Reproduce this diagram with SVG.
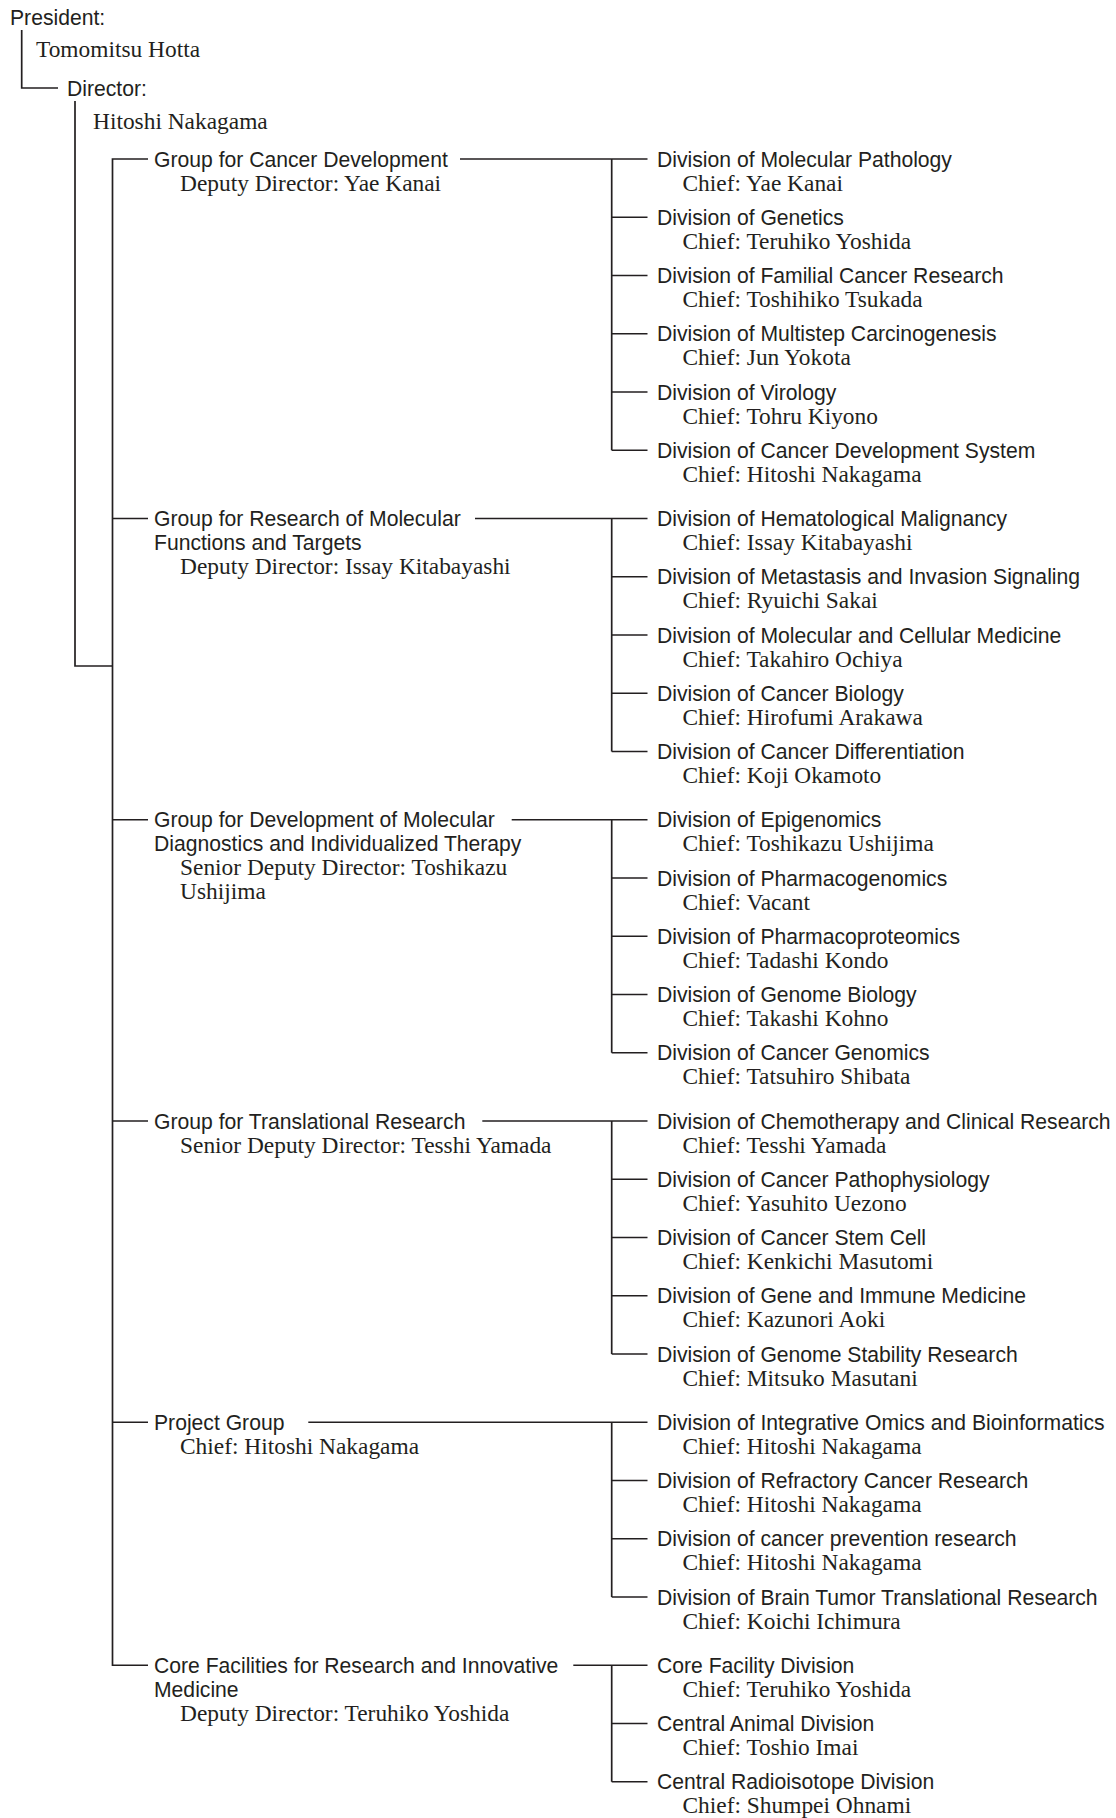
<svg xmlns="http://www.w3.org/2000/svg" width="1116" height="1818" viewBox="0 0 1116 1818">
<style>
.s{font-family:"Liberation Sans",Arial,Helvetica,sans-serif;font-size:21.15px;fill:#231f20}
.r{font-family:"Liberation Serif","Times New Roman",serif;font-size:23.4px;fill:#231f20}
.c{fill:none;stroke:#231f20;stroke-width:1.7}
</style>
<rect width="1116" height="1818" fill="#fff"/>
<g id="connectors" class="c">
<path d="M21.7,30 V88 H58"/>
<path d="M75,101 V666 H112.5"/>
<path d="M148,159 H112.5 V1665.25 H148"/>
<path d="M112.5,518.5 H148 M112.5,819.75 H148 M112.5,1121 H148 M112.5,1422.25 H148"/>
<path d="M460,159 H611.7 M611.7,159 V450.25 M611.7,159 H647.5 M611.7,217.25 H647.5 M611.7,275.5 H647.5 M611.7,333.75 H647.5 M611.7,392 H647.5 M611.7,450.25 H647.5"/>
<path d="M475,518.5 H611.7 M611.7,518.5 V751.5 M611.7,518.5 H647.5 M611.7,576.75 H647.5 M611.7,635 H647.5 M611.7,693.25 H647.5 M611.7,751.5 H647.5"/>
<path d="M511.7,819.75 H611.7 M611.7,819.75 V1052.75 M611.7,819.75 H647.5 M611.7,878 H647.5 M611.7,936.25 H647.5 M611.7,994.5 H647.5 M611.7,1052.75 H647.5"/>
<path d="M482.3,1121 H611.7 M611.7,1121 V1354 M611.7,1121 H647.5 M611.7,1179.25 H647.5 M611.7,1237.5 H647.5 M611.7,1295.75 H647.5 M611.7,1354 H647.5"/>
<path d="M308.3,1422.25 H611.7 M611.7,1422.25 V1597 M611.7,1422.25 H647.5 M611.7,1480.5 H647.5 M611.7,1538.75 H647.5 M611.7,1597 H647.5"/>
<path d="M573.3,1665.25 H611.7 M611.7,1665.25 V1781.75 M611.7,1665.25 H647.5 M611.7,1723.5 H647.5 M611.7,1781.75 H647.5"/>
</g>
<g id="president"><text class="s" x="10" y="25">President:</text><text class="r" x="36" y="57">Tomomitsu Hotta</text></g>
<g id="director"><text class="s" x="67" y="95.5">Director:</text><text class="r" x="93" y="128.5">Hitoshi Nakagama</text></g>

<g id="group-cancer-development" transform="translate(154,159)"><text class="s" y="7.5">Group for Cancer Development</text><text class="r" x="26" y="31.5">Deputy Director: Yae Kanai</text></g>
<g id="group-molecular-functions" transform="translate(154,518.5)"><text class="s" y="7.5">Group for Research of Molecular</text><text class="s" y="31.5">Functions and Targets</text><text class="r" x="26" y="55.5">Deputy Director: Issay Kitabayashi</text></g>
<g id="group-diagnostics" transform="translate(154,819.75)"><text class="s" y="7.5">Group for Development of Molecular</text><text class="s" y="31.5">Diagnostics and Individualized Therapy</text><text class="r" x="26" y="55.5">Senior Deputy Director: Toshikazu</text><text class="r" x="26" y="79.5">Ushijima</text></g>
<g id="group-translational" transform="translate(154,1121)"><text class="s" y="7.5">Group for Translational Research</text><text class="r" x="26" y="31.5">Senior Deputy Director: Tesshi Yamada</text></g>
<g id="group-project" transform="translate(154,1422.25)"><text class="s" y="7.5">Project Group</text><text class="r" x="26" y="31.5">Chief: Hitoshi Nakagama</text></g>
<g id="group-core-facilities" transform="translate(154,1665.25)"><text class="s" y="7.5">Core Facilities for Research and Innovative</text><text class="s" y="31.5">Medicine</text><text class="r" x="26" y="55.5">Deputy Director: Teruhiko Yoshida</text></g>

<g id="div-molecular-pathology" transform="translate(657,159)"><text class="s" y="7.5">Division of Molecular Pathology</text><text class="r" x="25.5" y="31.5">Chief: Yae Kanai</text></g>
<g id="div-genetics" transform="translate(657,217.25)"><text class="s" y="7.5">Division of Genetics</text><text class="r" x="25.5" y="31.5">Chief: Teruhiko Yoshida</text></g>
<g id="div-familial" transform="translate(657,275.5)"><text class="s" y="7.5">Division of Familial Cancer Research</text><text class="r" x="25.5" y="31.5">Chief: Toshihiko Tsukada</text></g>
<g id="div-multistep" transform="translate(657,333.75)"><text class="s" y="7.5">Division of Multistep Carcinogenesis</text><text class="r" x="25.5" y="31.5">Chief: Jun Yokota</text></g>
<g id="div-virology" transform="translate(657,392)"><text class="s" y="7.5">Division of Virology</text><text class="r" x="25.5" y="31.5">Chief: Tohru Kiyono</text></g>
<g id="div-cancer-dev-system" transform="translate(657,450.25)"><text class="s" y="7.5">Division of Cancer Development System</text><text class="r" x="25.5" y="31.5">Chief: Hitoshi Nakagama</text></g>

<g id="div-hematological" transform="translate(657,518.5)"><text class="s" y="7.5">Division of Hematological Malignancy</text><text class="r" x="25.5" y="31.5">Chief: Issay Kitabayashi</text></g>
<g id="div-metastasis" transform="translate(657,576.75)"><text class="s" y="7.5">Division of Metastasis and Invasion Signaling</text><text class="r" x="25.5" y="31.5">Chief: Ryuichi Sakai</text></g>
<g id="div-molecular-cellular" transform="translate(657,635)"><text class="s" y="7.5">Division of Molecular and Cellular Medicine</text><text class="r" x="25.5" y="31.5">Chief: Takahiro Ochiya</text></g>
<g id="div-cancer-biology" transform="translate(657,693.25)"><text class="s" y="7.5">Division of Cancer Biology</text><text class="r" x="25.5" y="31.5">Chief: Hirofumi Arakawa</text></g>
<g id="div-differentiation" transform="translate(657,751.5)"><text class="s" y="7.5">Division of Cancer Differentiation</text><text class="r" x="25.5" y="31.5">Chief: Koji Okamoto</text></g>

<g id="div-epigenomics" transform="translate(657,819.75)"><text class="s" y="7.5">Division of Epigenomics</text><text class="r" x="25.5" y="31.5">Chief: Toshikazu Ushijima</text></g>
<g id="div-pharmacogenomics" transform="translate(657,878)"><text class="s" y="7.5">Division of Pharmacogenomics</text><text class="r" x="25.5" y="31.5">Chief: Vacant</text></g>
<g id="div-pharmacoproteomics" transform="translate(657,936.25)"><text class="s" y="7.5">Division of Pharmacoproteomics</text><text class="r" x="25.5" y="31.5">Chief: Tadashi Kondo</text></g>
<g id="div-genome-biology" transform="translate(657,994.5)"><text class="s" y="7.5">Division of Genome Biology</text><text class="r" x="25.5" y="31.5">Chief: Takashi Kohno</text></g>
<g id="div-cancer-genomics" transform="translate(657,1052.75)"><text class="s" y="7.5">Division of Cancer Genomics</text><text class="r" x="25.5" y="31.5">Chief: Tatsuhiro Shibata</text></g>

<g id="div-chemotherapy" transform="translate(657,1121)"><text class="s" y="7.5">Division of Chemotherapy and Clinical Research</text><text class="r" x="25.5" y="31.5">Chief: Tesshi Yamada</text></g>
<g id="div-pathophysiology" transform="translate(657,1179.25)"><text class="s" y="7.5">Division of Cancer Pathophysiology</text><text class="r" x="25.5" y="31.5">Chief: Yasuhito Uezono</text></g>
<g id="div-stem-cell" transform="translate(657,1237.5)"><text class="s" y="7.5">Division of Cancer Stem Cell</text><text class="r" x="25.5" y="31.5">Chief: Kenkichi Masutomi</text></g>
<g id="div-gene-immune" transform="translate(657,1295.75)"><text class="s" y="7.5">Division of Gene and Immune Medicine</text><text class="r" x="25.5" y="31.5">Chief: Kazunori Aoki</text></g>
<g id="div-genome-stability" transform="translate(657,1354)"><text class="s" y="7.5">Division of Genome Stability Research</text><text class="r" x="25.5" y="31.5">Chief: Mitsuko Masutani</text></g>

<g id="div-omics" transform="translate(657,1422.25)"><text class="s" y="7.5">Division of Integrative Omics and Bioinformatics</text><text class="r" x="25.5" y="31.5">Chief: Hitoshi Nakagama</text></g>
<g id="div-refractory" transform="translate(657,1480.5)"><text class="s" y="7.5">Division of Refractory Cancer Research</text><text class="r" x="25.5" y="31.5">Chief: Hitoshi Nakagama</text></g>
<g id="div-prevention" transform="translate(657,1538.75)"><text class="s" y="7.5">Division of cancer prevention research</text><text class="r" x="25.5" y="31.5">Chief: Hitoshi Nakagama</text></g>
<g id="div-brain-tumor" transform="translate(657,1597)"><text class="s" y="7.5">Division of Brain Tumor Translational Research</text><text class="r" x="25.5" y="31.5">Chief: Koichi Ichimura</text></g>

<g id="div-core-facility" transform="translate(657,1665.25)"><text class="s" y="7.5">Core Facility Division</text><text class="r" x="25.5" y="31.5">Chief: Teruhiko Yoshida</text></g>
<g id="div-central-animal" transform="translate(657,1723.5)"><text class="s" y="7.5">Central Animal Division</text><text class="r" x="25.5" y="31.5">Chief: Toshio Imai</text></g>
<g id="div-radioisotope" transform="translate(657,1781.75)"><text class="s" y="7.5">Central Radioisotope Division</text><text class="r" x="25.5" y="31.5">Chief: Shumpei Ohnami</text></g>
</svg>
